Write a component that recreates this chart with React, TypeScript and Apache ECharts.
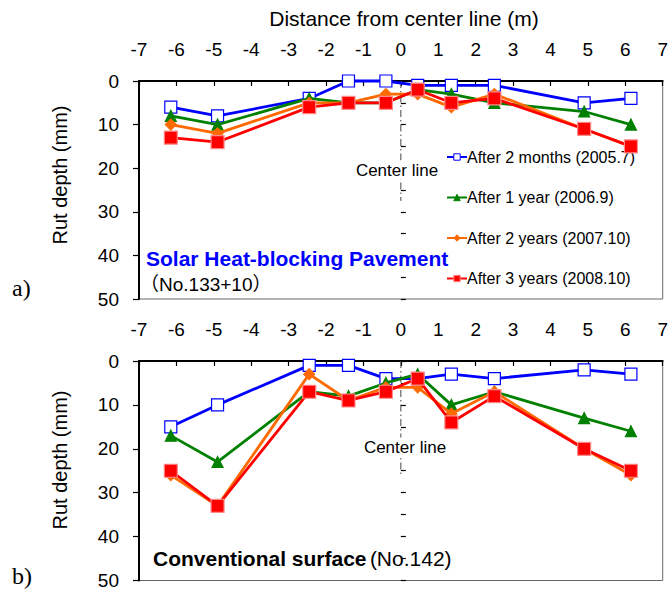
import React, { useEffect, useRef } from "react";
import * as echarts from "echarts";

// Distance from center line (m) of each measuring point
const xPos = [-6.15, -4.9, -2.45, -1.4, -0.4, 0.45, 1.35, 2.5, 4.9, 6.15];

// a) Solar heat-blocking pavement (No.133+10), rut depth (mm)
const topMonths2 = [6, 8, 4, 0, 0, 1, 1, 1, 5, 4];
const topYear1 = [8, 10, 4, 5, 5, 2, 3, 5, 7, 10];
const topYear2 = [10, 12, 5, 5, 3, 3, 6, 3, 11, 15];
const topYear3 = [13, 14, 6, 5, 5, 2, 5, 4, 11, 15];

// b) Conventional surface (No.142), rut depth (mm)
const botMonths2 = [15, 10, 1, 1, 4, 4, 3, 4, 2, 3];
const botYear1 = [17, 23, 7, 8, 5, 3, 10, 7, 13, 16];
const botYear2 = [26, 33, 3, 9, 6, 6, 12, 7, 20, 26];
const botYear3 = [25, 33, 7, 9, 7, 4, 14, 8, 20, 25];

const seriesNames = [
  "After 2 months (2005.7)",
  "After 1 year (2006.9)",
  "After 2 years (2007.10)",
  "After 3 years (2008.10)",
];

// center line extents (rut depth units)
const centerLineTop = [0, 27.5];
const centerLineBot = [0, 26];

const FONT = "'Liberation Sans', Arial, 'Noto Sans CJK JP', sans-serif";

export default function App() {
  const ref = useRef<HTMLDivElement>(null);
  useEffect(() => {
    if (!ref.current) return;
    const chart = echarts.init(ref.current, null, { renderer: "svg" });
    const pair = (v: number[]) => v.map((y, i) => [xPos[i], y]);
    const styles = [
      { color: "#0000ff", symbol: "rect", size: 12, fill: "#ffffff", border: "#0000ff" },
      { color: "#008000", symbol: "triangle", size: 11, fill: "#008000", border: "#008000" },
      { color: "#ff6a00", symbol: "diamond", size: 11, fill: "#ff6a00", border: "#ff6a00" },
      { color: "#ff0000", symbol: "rect", size: 13, fill: "#ff0000", border: "#ff8a8a" },
    ];
    const topData = [topMonths2, topYear1, topYear2, topYear3];
    const botData = [botMonths2, botYear1, botYear2, botYear3];

    const mkSeries = (data: number[][], grid: number) =>
      data.map((d, k) => ({
        type: "line",
        name: seriesNames[k],
        xAxisIndex: grid,
        yAxisIndex: grid * 2,
        data: pair(d),
        symbol: styles[k].symbol,
        symbolSize: styles[k].size,
        showAllSymbol: true,
        clip: false,
        lineStyle: { color: styles[k].color, width: 2.8 },
        itemStyle: {
          color: styles[k].fill,
          borderColor: styles[k].border,
          borderWidth: 1.2,
        },
        z: 3 + k,
      }));

    const centerSeries = (ext: number[], grid: number) => ({
      type: "line",
      xAxisIndex: grid,
      yAxisIndex: grid * 2,
      data: [
        [0, ext[0]],
        [0, ext[1]],
      ],
      symbol: "none",
      silent: true,
      lineStyle: { color: "#444", width: 1, type: [7, 3, 1.5, 3] },
      z: 1,
    });

    const xAxisBase = (grid: number) => ({
      type: "value",
      gridIndex: grid,
      position: "top",
      min: -7,
      max: 7,
      interval: 1,
      axisLine: { show: true, onZero: false, lineStyle: { color: "#000", width: 2 } },
      axisTick: { show: true, inside: true, length: 5, lineStyle: { color: "#000", width: 1.2 } },
      axisLabel: { fontSize: 19, color: "#000", fontFamily: FONT, margin: 22 },
      splitLine: { show: false },
    });

    const yMain = (grid: number) => ({
      type: "value",
      gridIndex: grid,
      inverse: true,
      min: 0,
      max: 50,
      interval: 10,
      position: "left",
      axisLine: { show: true, onZero: false, lineStyle: { color: "#000", width: 2 } },
      axisTick: { show: true, inside: false, length: 6, lineStyle: { color: "#000", width: 1.2 } },
      axisLabel: { fontSize: 19, color: "#000", fontFamily: FONT, margin: 20 },
      splitLine: { show: false },
    });
    const yMinor = (grid: number) => ({
      type: "value",
      gridIndex: grid,
      inverse: true,
      min: 0,
      max: 50,
      interval: 5,
      position: "left",
      axisLine: { show: false },
      axisTick: { show: true, inside: true, length: 5, lineStyle: { color: "#000", width: 1.2 } },
      axisLabel: { show: false },
      splitLine: { show: false },
    });

    const legendIcon = (k: number) => ({
      name: seriesNames[k],
      itemStyle: { color: styles[k].fill, borderColor: styles[k].border, borderWidth: 1 },
    });

    chart.setOption({
      animation: false,
      backgroundColor: "#ffffff",
      textStyle: { fontFamily: FONT },
      grid: [
        { left: 139, top: 81, width: 531, height: 218, show: true, borderColor: "#666", borderWidth: 1, backgroundColor: "transparent" },
        { left: 139, top: 361, width: 531, height: 220, show: true, borderColor: "#666", borderWidth: 1, backgroundColor: "transparent" },
      ],
      xAxis: [xAxisBase(0), xAxisBase(1)],
      yAxis: [yMain(0), yMinor(0), yMain(1), yMinor(1)],
      legend: {
        orient: "vertical",
        left: 441,
        top: 144,
        itemWidth: 20,
        itemHeight: 8,
        itemGap: 24.5,
        data: [0, 1, 2, 3].map(legendIcon),
        selectedMode: false,
        textStyle: { fontSize: 16, color: "#000", fontFamily: FONT, padding: [0, 0, 0, -5] },
      },
      series: [
        centerSeries(centerLineTop, 0),
        centerSeries(centerLineBot, 1),
        ...mkSeries(topData, 0),
        ...mkSeries(botData, 1),
      ],
      graphic: [
        {
          type: "text",
          x: 404,
          y: 18,
          style: { text: "Distance from center line (m)", font: `21px ${FONT}`, fill: "#000", align: "center", verticalAlign: "middle" },
        },
        {
          type: "text",
          x: 60,
          y: 175,
          rotation: Math.PI / 2,
          style: { text: "Rut depth (mm)", font: `20px ${FONT}`, fill: "#000", align: "center", verticalAlign: "middle" },
        },
        {
          type: "text",
          x: 60,
          y: 460,
          rotation: Math.PI / 2,
          style: { text: "Rut depth (mm)", font: `20px ${FONT}`, fill: "#000", align: "center", verticalAlign: "middle" },
        },
        {
          type: "text",
          x: 397,
          y: 170,
          z: 10,
          style: { text: "Center line", font: `17px ${FONT}`, fill: "#000", align: "center", verticalAlign: "middle", backgroundColor: "#fff", padding: [1, 1] },
        },
        {
          type: "text",
          x: 405,
          y: 447,
          z: 10,
          style: { text: "Center line", font: `17px ${FONT}`, fill: "#000", align: "center", verticalAlign: "middle", backgroundColor: "#fff", padding: [1, 1] },
        },
        {
          type: "text",
          x: 146,
          y: 258,
          z: 10,
          style: { text: "Solar Heat-blocking Pavement", font: `bold 21px ${FONT}`, fill: "#0000ff", align: "left", verticalAlign: "middle" },
        },
        {
          type: "text",
          x: 140,
          y: 284,
          z: 10,
          style: { text: "（No.133+10）", font: `19px ${FONT}`, fill: "#000", align: "left", verticalAlign: "middle" },
        },
        {
          type: "text",
          x: 153,
          y: 558,
          z: 10,
          style: {
            text: "{b|Conventional surface} {n|(No.142)}",
            align: "left",
            verticalAlign: "middle",
            rich: {
              b: { font: `bold 21px ${FONT}`, fill: "#000" },
              n: { font: `21px ${FONT}`, fill: "#000" },
            },
          },
        },
        {
          type: "text",
          x: 12,
          y: 288,
          style: { text: "a)", font: "24px 'Liberation Serif', 'Times New Roman', serif", fill: "#000", align: "left", verticalAlign: "middle" },
        },
        {
          type: "text",
          x: 12,
          y: 576,
          style: { text: "b)", font: "24px 'Liberation Serif', 'Times New Roman', serif", fill: "#000", align: "left", verticalAlign: "middle" },
        },
      ],
    });
    return () => chart.dispose();
  }, []);
  return <div ref={ref} style={{ position: "fixed", left: 0, top: 0, width: 671, height: 590 }} />;
}
